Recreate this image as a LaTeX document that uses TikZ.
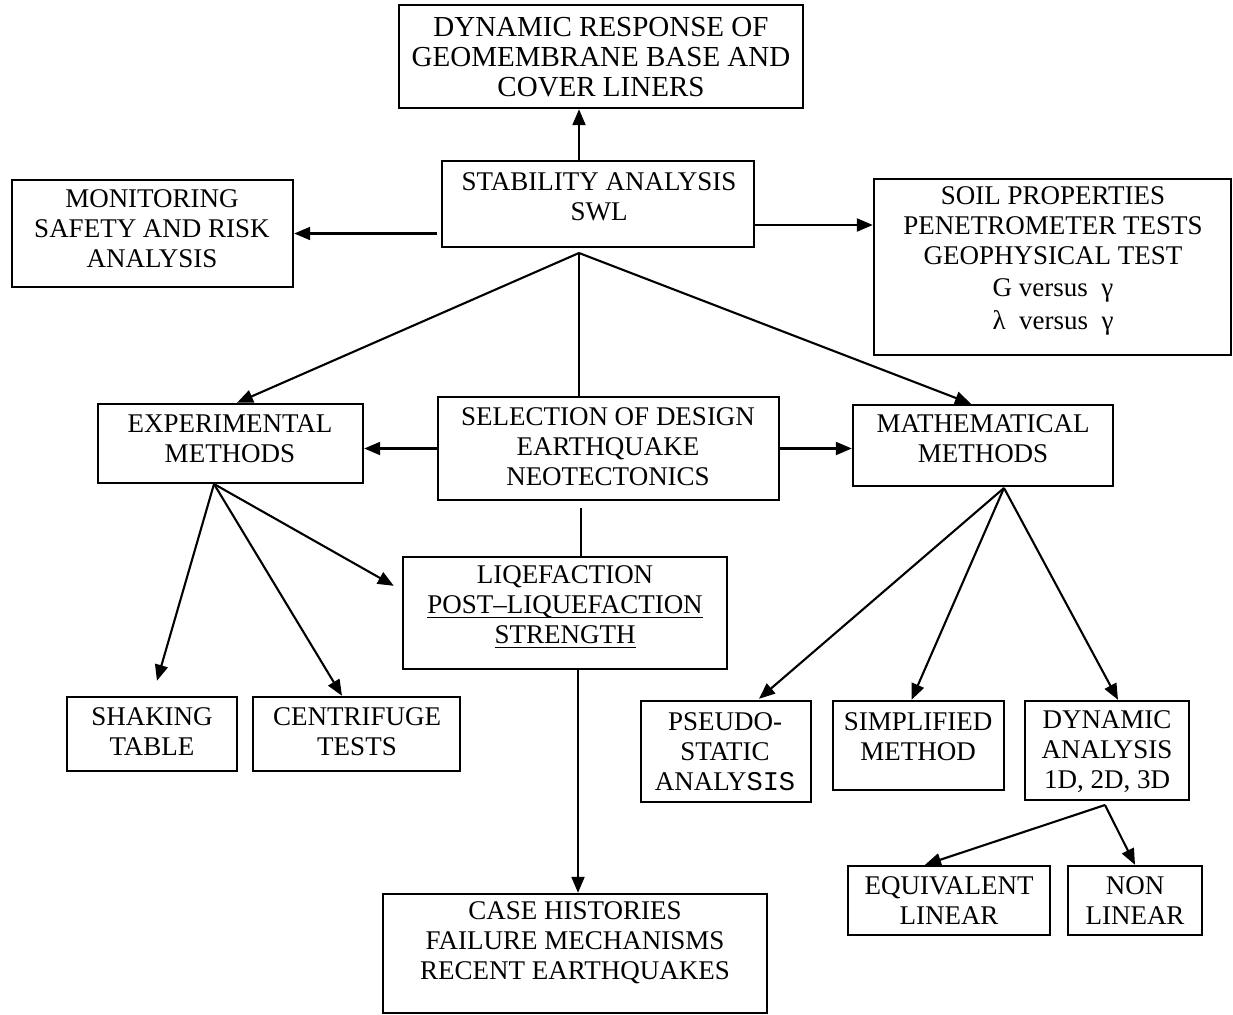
\documentclass[tikz,border=0pt]{standalone}
\usepackage{fontspec}
\setmainfont{Liberation Serif}
\newfontfamily\codefont{Liberation Mono}
\usetikzlibrary{arrows.meta}

% underline with a fixed offset and thickness
\newcommand\ulin[1]{\setbox0\hbox{#1}\leavevmode\rlap{\rule[-5pt]{\wd0}{1.8pt}}\box0}

\tikzset{
  box/.style 2 args={draw, line width=2.4pt, minimum width=#1pt, minimum height=#2pt, inner sep=0pt},
  txt/.style={align=center, inner sep=0pt, font=\fontsize{27}{30}\selectfont},
  bigtxt/.style={txt, font=\fontsize{29}{30}\selectfont},
  link/.style={line width=2.1pt},
  arr/.style={link, -{Triangle[length=16pt,width=13pt]}}
}

\begin{document}
\begin{tikzpicture}[x=1pt,y=-1pt]
\useasboundingbox (0,0) rectangle (1233,1014);

% boxes
\node[box={404}{103}] (dyn)    at (601,56.5)   {};
\node[box={312}{86}]  (stab)   at (598,204)    {};
\node[box={281}{107}] (mon)    at (152.5,233.5){};
\node[box={357}{176}] (soil)   at (1052.5,267) {};
\node[box={341}{103}] (sel)    at (608.5,448.5){};
\node[box={265}{79}]  (exp)    at (230.5,443.5){};
\node[box={260}{81}]  (math)   at (983,445.5)  {};
\node[box={324}{112}] (liq)    at (565,613)    {};
\node[box={170}{74}]  (shake)  at (152,734)    {};
\node[box={207}{74}]  (cent)   at (356.5,734)  {};
\node[box={170}{101}] (pseudo) at (726,751.5)  {};
\node[box={171}{89}]  (simp)   at (918.5,745.5){};
\node[box={164}{99}]  (dynan)  at (1107,750.5) {};
\node[box={202}{69}]  (equiv)  at (949,900.5)  {};
\node[box={134}{69}]  (nonlin) at (1135,900.5) {};
\node[box={384}{119}] (case)   at (575,953.5)  {};

% labels
\node[bigtxt] (dyn-t) at (601,57)    {DYNAMIC RESPONSE OF\\GEOMEMBRANE BASE AND\\COVER LINERS};
\node[txt] (stab-t)   at (599,196.5) {STABILITY ANALYSIS\\SWL};
\node[txt] (mon-t)    at (152,229)   {MONITORING\\SAFETY AND RISK\\ANALYSIS};
\node[txt] (soil-t)   at (1053,261)  {SOIL PROPERTIES\\PENETROMETER TESTS\\GEOPHYSICAL TEST\\[2pt]G versus~~γ\\[3pt]λ~~versus~~γ};
\node[txt] (sel-t)    at (608,447)   {SELECTION OF DESIGN\\EARTHQUAKE\\NEOTECTONICS};
\node[txt] (exp-t)    at (230,439)   {EXPERIMENTAL\\METHODS};
\node[txt] (math-t)   at (983,439)   {MATHEMATICAL\\METHODS};
\node[txt] (liq-t)    at (565,607)   {LIQEFACTION\\\ulin{POST–LIQUEFACTION}\\\ulin{STRENGTH}};
\node[txt] (shake-t)  at (152,731.5) {SHAKING\\TABLE};
\node[txt] (cent-t)   at (357,731.5) {CENTRIFUGE\\TESTS};
\node[txt] (pseudo-t) at (725,752)   {PSEUDO-\\STATIC\\ANALY{\codefont SIS}};
\node[txt] (simp-t)   at (918,737)   {SIMPLIFIED\\METHOD};
\node[txt] (dynan-t)  at (1107,752)  {DYNAMIC\\ANALYSIS\\1D, 2D, 3D};
\node[txt] (equiv-t)  at (949,901)   {EQUIVALENT\\LINEAR};
\node[txt] (nonlin-t) at (1135,901)  {NON\\LINEAR};
\node[txt] (case-t)   at (575,943)   {CASE HISTORIES\\FAILURE MECHANISMS\\RECENT EARTHQUAKES};

% branching points
\coordinate (hubA) at (579,253);
\coordinate (hubE) at (214,484);
\coordinate (hubM) at (1004,488);
\coordinate (hubD) at (1105,805);
\coordinate (stabR) at ([yshift=-21pt]stab.east);
\coordinate (selB) at (581,508);
\coordinate (shakeTip) at ([xshift=5pt,yshift=15pt]shake.north);

% connectors
\draw[arr] (stab.north -| hubA) -- (dyn.south -| hubA);
\draw[arr] ([xshift=-4pt]stab.west |- mon.east) -- (mon.east);
\draw[arr] (stabR) -- (soil.west |- stabR);
\draw[arr] (hubA) -- ([xshift=6.5pt]exp.north);
\draw[link] (hubA) -- (sel.north -| hubA);
\draw[arr] (hubA) -- ([xshift=-12pt]math.north);
\draw[arr] (sel.west) -- (exp.east |- sel.west);
\draw[arr] (sel.east) -- (math.west |- sel.east);
\draw[link] (selB) -- (liq.north -| selB);
\draw[arr] ([xshift=13pt]liq.south) -- ([xshift=3pt]case.north);
\draw[arr] (hubE) -- (shakeTip);
\draw[arr] (hubE) -- ([xshift=-14.5pt]cent.north);
\draw[arr] (hubE) -- ([xshift=-8pt,yshift=-30pt]liq.north west);
\draw[arr] (hubM) -- ([xshift=33pt,yshift=1pt]pseudo.north);
\draw[arr] (hubM) -- ([xshift=-7pt]simp.north);
\draw[arr] (hubM) -- ([xshift=11pt]dynan.north);
\draw[arr] (hubD) -- ([xshift=-24pt]equiv.north);
\draw[arr] (hubD) -- (nonlin.north);
\end{tikzpicture}
\end{document}
